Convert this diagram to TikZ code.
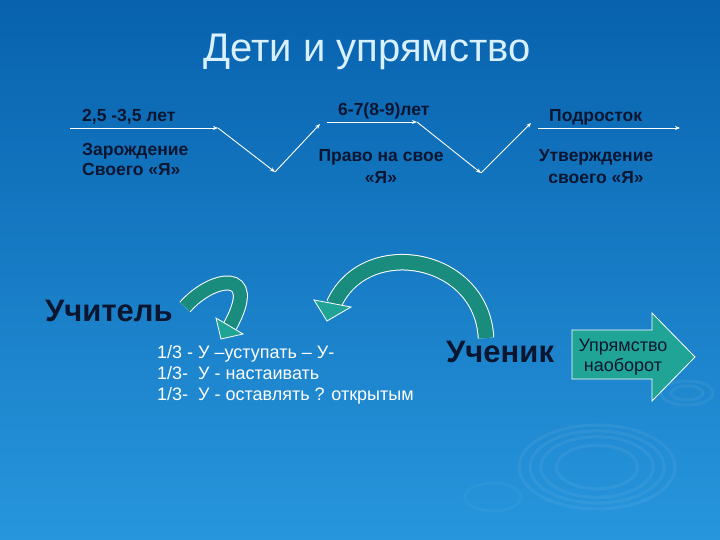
\documentclass[tikz,border=0pt]{standalone}
\usepackage{fontspec}
\setmainfont{Liberation Sans}
\usetikzlibrary{arrows.meta}
\definecolor{bgtop}{HTML}{0862AE}
\definecolor{bgbot}{HTML}{2796DC}
\definecolor{titlecol}{HTML}{D8F0FF}
\definecolor{darktxt}{HTML}{0A1530}
\definecolor{tealA}{HTML}{1A8C7E}
\definecolor{tealB}{HTML}{1FA496}
\tikzset{
  zig/.style={white, line width=0.9pt, -{Stealth[length=5pt,width=4pt]}},
  lbl/.style={font=\bfseries\fontsize{17.5}{20}\selectfont, text=darktxt, inner sep=0pt},
  big/.style={font=\bfseries\fontsize{31}{34}\selectfont, text=darktxt, inner sep=0pt},
  lst/.style={font=\fontsize{18}{21}\selectfont, text=white, inner sep=0pt, anchor=base west},
  ripple/.style={white, opacity=0.06, line width=3pt},
}
\begin{document}
\begin{tikzpicture}[x=1pt,y=-1pt]
\useasboundingbox (0,0) rectangle (720,540);
\shade[top color=bgtop, bottom color=bgbot] (0,0) rectangle (720,540);
% ripples
\foreach \s in {1,0.86,0.72,0.52} {
  \draw[ripple] (597,467) ellipse ({78*\s} and {42*\s});
}
\draw[ripple] (687,393) ellipse (26 and 12);
\draw[ripple] (687,393) ellipse (16 and 7);
\draw[ripple, opacity=0.04] (493,497) ellipse (28 and 14);

% title
\node[font=\fontsize{40}{44}\selectfont, text=titlecol, inner sep=0pt, anchor=base] (title) at (367,62) {Дети и упрямство};

% zigzag coordinates
\coordinate (a1) at (70,128);
\coordinate (a2) at (218,128);
\coordinate (v1) at (275,172);
\coordinate (b0) at (320,124);
\coordinate (b1) at (327,122);
\coordinate (b2) at (417,122);
\coordinate (v2) at (481,173);
\coordinate (c0) at (531,123);
\coordinate (c1) at (538,128);
\coordinate (c2) at (680,128);
\draw[zig] (a1) -- (a2);
\draw[zig] (a2) -- (v1);
\draw[zig] (v1) -- (b0);
\draw[zig] (b1) -- (b2);
\draw[zig] (b2) -- (v2);
\draw[zig] (v2) -- (c0);
\draw[zig] (c1) -- (c2);

% labels
\node[lbl, anchor=base west] (l1) at (82,122) {2,5 -3,5 лет};
\node[lbl, anchor=base west] (l1a) at (82,156) {Зарождение};
\node[lbl, anchor=base west] (l1b) at (82,176) {Своего «Я»};
\node[lbl, anchor=base west] (l2) at (338,116) {6-7(8-9)лет};
\node[lbl, anchor=base] (l2a) at (381,162) {Право на свое};
\node[lbl, anchor=base] (l2b) at (381,184) {«Я»};
\node[lbl, anchor=base west] (l3) at (549,122) {Подросток};
\node[lbl, anchor=base] (l3a) at (596,162) {Утверждение};
\node[lbl, anchor=base] (l3b) at (596,184) {своего «Я»};

% big words
\node[big, anchor=base west] (teacher) at (45,321) {Учитель};
\node[big, anchor=base west] (pupil) at (446,362) {Ученик};

% list
\node[lst] (s1) at (157,358) {1/3 - У –уступать – У-};
\node[lst] (s2) at (157,379) {1/3-\ \ У - настаивать};
\node[lst] (s3) at (157,400) {1/3-\ \ У - оставлять ? открытым};

% curved arrow 1
\coordinate (p1s) at (185,307);
\coordinate (p1e) at (230,326);
\draw[white, line width=15pt] (p1s) .. controls (212,276) and (262,268) .. (p1e);
\draw[tealA, line width=13pt] (p1s) .. controls (212,276) and (262,268) .. (p1e);
\draw[white, line width=0.8pt, fill=tealB] (216,318) -- (243,334) -- (221,339) -- cycle;

% curved arrow 2
\coordinate (p2s) at (486,338);
\coordinate (p2e) at (334,304);
\draw[white, line width=16.5pt] (p2s) .. controls (482,255) and (365,235) .. (p2e);
\draw[tealA, line width=14.5pt] (p2s) .. controls (482,255) and (365,235) .. (p2e);
\draw[white, line width=0.8pt, fill=tealB] (314,300) -- (351,307) -- (327,321) -- cycle;

% block arrow
\draw[white, line width=0.8pt, fill=tealB] (572,330) -- (652,330) -- (652,313) -- (695,357) -- (652,401) -- (652,379) -- (572,379) -- cycle;
\node[font=\fontsize{18}{20}\selectfont, text=darktxt, inner sep=0pt, align=center] (rev) at (623,357) {Упрямство\\наоборот};
\end{tikzpicture}
\end{document}
